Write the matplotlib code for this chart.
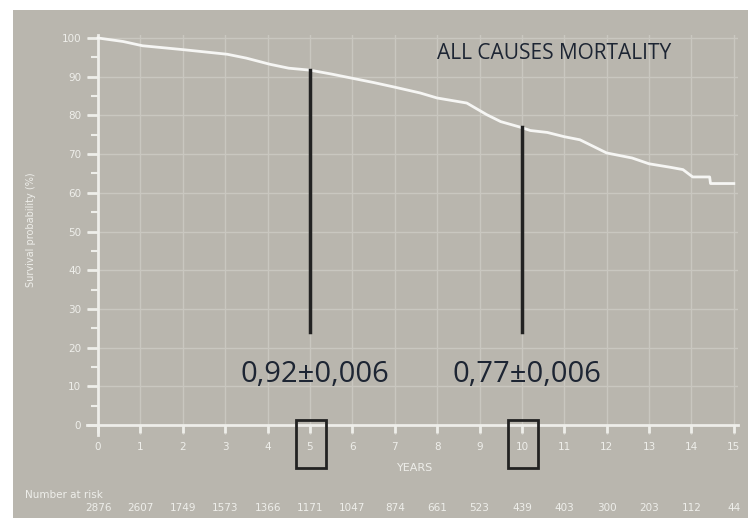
import matplotlib.pyplot as plt
from matplotlib.patches import Rectangle
import matplotlib.transforms as mtransforms

# Survival curve
years = [0, 0.59, 1.05, 2, 3.05, 3.5, 4.06, 4.5, 5, 5.5, 6, 6.5, 7, 7.6, 8, 8.7,
         9.17, 9.5, 9.95, 10.2, 10.6, 11, 11.37, 12, 12.6, 13, 13.5, 13.8, 14.03,
         14.43, 14.45, 15]
survival = [100, 99.1, 98.0, 97.0, 95.8, 94.8, 93.2, 92.2, 91.7, 90.7, 89.6, 88.5,
            87.3, 85.8, 84.5, 83.2, 80.2, 78.4, 77.0, 76.1, 75.6, 74.5, 73.7, 70.3,
            69.0, 67.5, 66.6, 66.0, 64.1, 64.1, 62.4, 62.4]

at_risk = [2876, 2607, 1749, 1573, 1366, 1171, 1047, 874, 661, 523, 439, 403,
           300, 203, 112, 44]

mark_years = [5, 10]
mark_top = [91.7, 77.0]
mark_labels = ['0,92±0,006', '0,77±0,006']

bg = '#b9b6ae'
fg = '#eeeeea'
grid_c = '#c9c7c0'
dark = '#1d2533'

fig = plt.figure(figsize=(7.48, 5.18), dpi=100)
fig.patch.set_facecolor('white')
fig.patches.append(Rectangle((13 / 748, 0), 1, 508 / 518, transform=fig.transFigure,
                             facecolor=bg, edgecolor='none', zorder=-10))

ax = fig.add_axes([0.1169, 0.1608, 0.8698, 0.7718])
ax.set_facecolor('none')
ax.set_xlim(-0.25, 15.1)
ax.set_ylim(-2.5, 100.8)

for s in ['top', 'right']:
    ax.spines[s].set_visible(False)
for s in ['left', 'bottom']:
    ax.spines[s].set_position(('data', 0))
    ax.spines[s].set_color(fg)
    ax.spines[s].set_linewidth(2)

ax.set_xticks(range(16))
ax.set_yticks(range(0, 101, 10))
ax.set_yticks(range(5, 100, 10), minor=True)
ax.tick_params(axis='x', colors=fg, length=6, width=2, labelsize=7.5, pad=6)
ax.tick_params(axis='y', which='major', colors=fg, length=8, width=2, labelsize=7.5, pad=4)
ax.tick_params(axis='y', which='minor', colors=fg, length=5, width=1.5)

for x in range(1, 16):
    ax.axvline(x, color=grid_c, lw=1, zorder=0)
for y in range(10, 101, 10):
    ax.axhline(y, color=grid_c, lw=1, zorder=0)

ax.plot(years, survival, color='#f6f6f4', lw=2, zorder=3)

for yr, top, lab in zip(mark_years, mark_top, mark_labels):
    ax.plot([yr, yr], [top, 24], color='#222222', lw=2.5, zorder=4)
    ax.text(yr + 0.12, 13.0, lab, ha='center', va='center', fontsize=21,
            family='Open Sans', color=dark)
    ax.add_patch(Rectangle((yr - 0.33, -11.1), 0.72, 12.4, fill=False,
                           edgecolor='#222222', lw=2, clip_on=False, zorder=5))

ax.text(10.75, 96.0, 'ALL CAUSES MORTALITY', ha='center', va='center', fontsize=15,
        family='Open Sans', color=dark)

fig.text(415 / 748, 1 - 468 / 518, 'YEARS', ha='center', va='center', fontsize=8, color=fg)
fig.text(31 / 748, 1 - 230 / 518, 'Survival probability (%)', rotation=90, ha='center',
         va='center', fontsize=7, color=fg)
fig.text(25 / 748, 1 - 495 / 518, 'Number at risk', ha='left', va='center', fontsize=7.5,
         color=fg)

trans = mtransforms.blended_transform_factory(ax.transData, fig.transFigure)
for i, n in enumerate(at_risk):
    ax.text(i, 1 - 508 / 518, str(n), transform=trans, ha='center', va='center',
            fontsize=7.5, color=fg)

fig.savefig('out.png', dpi=100)
